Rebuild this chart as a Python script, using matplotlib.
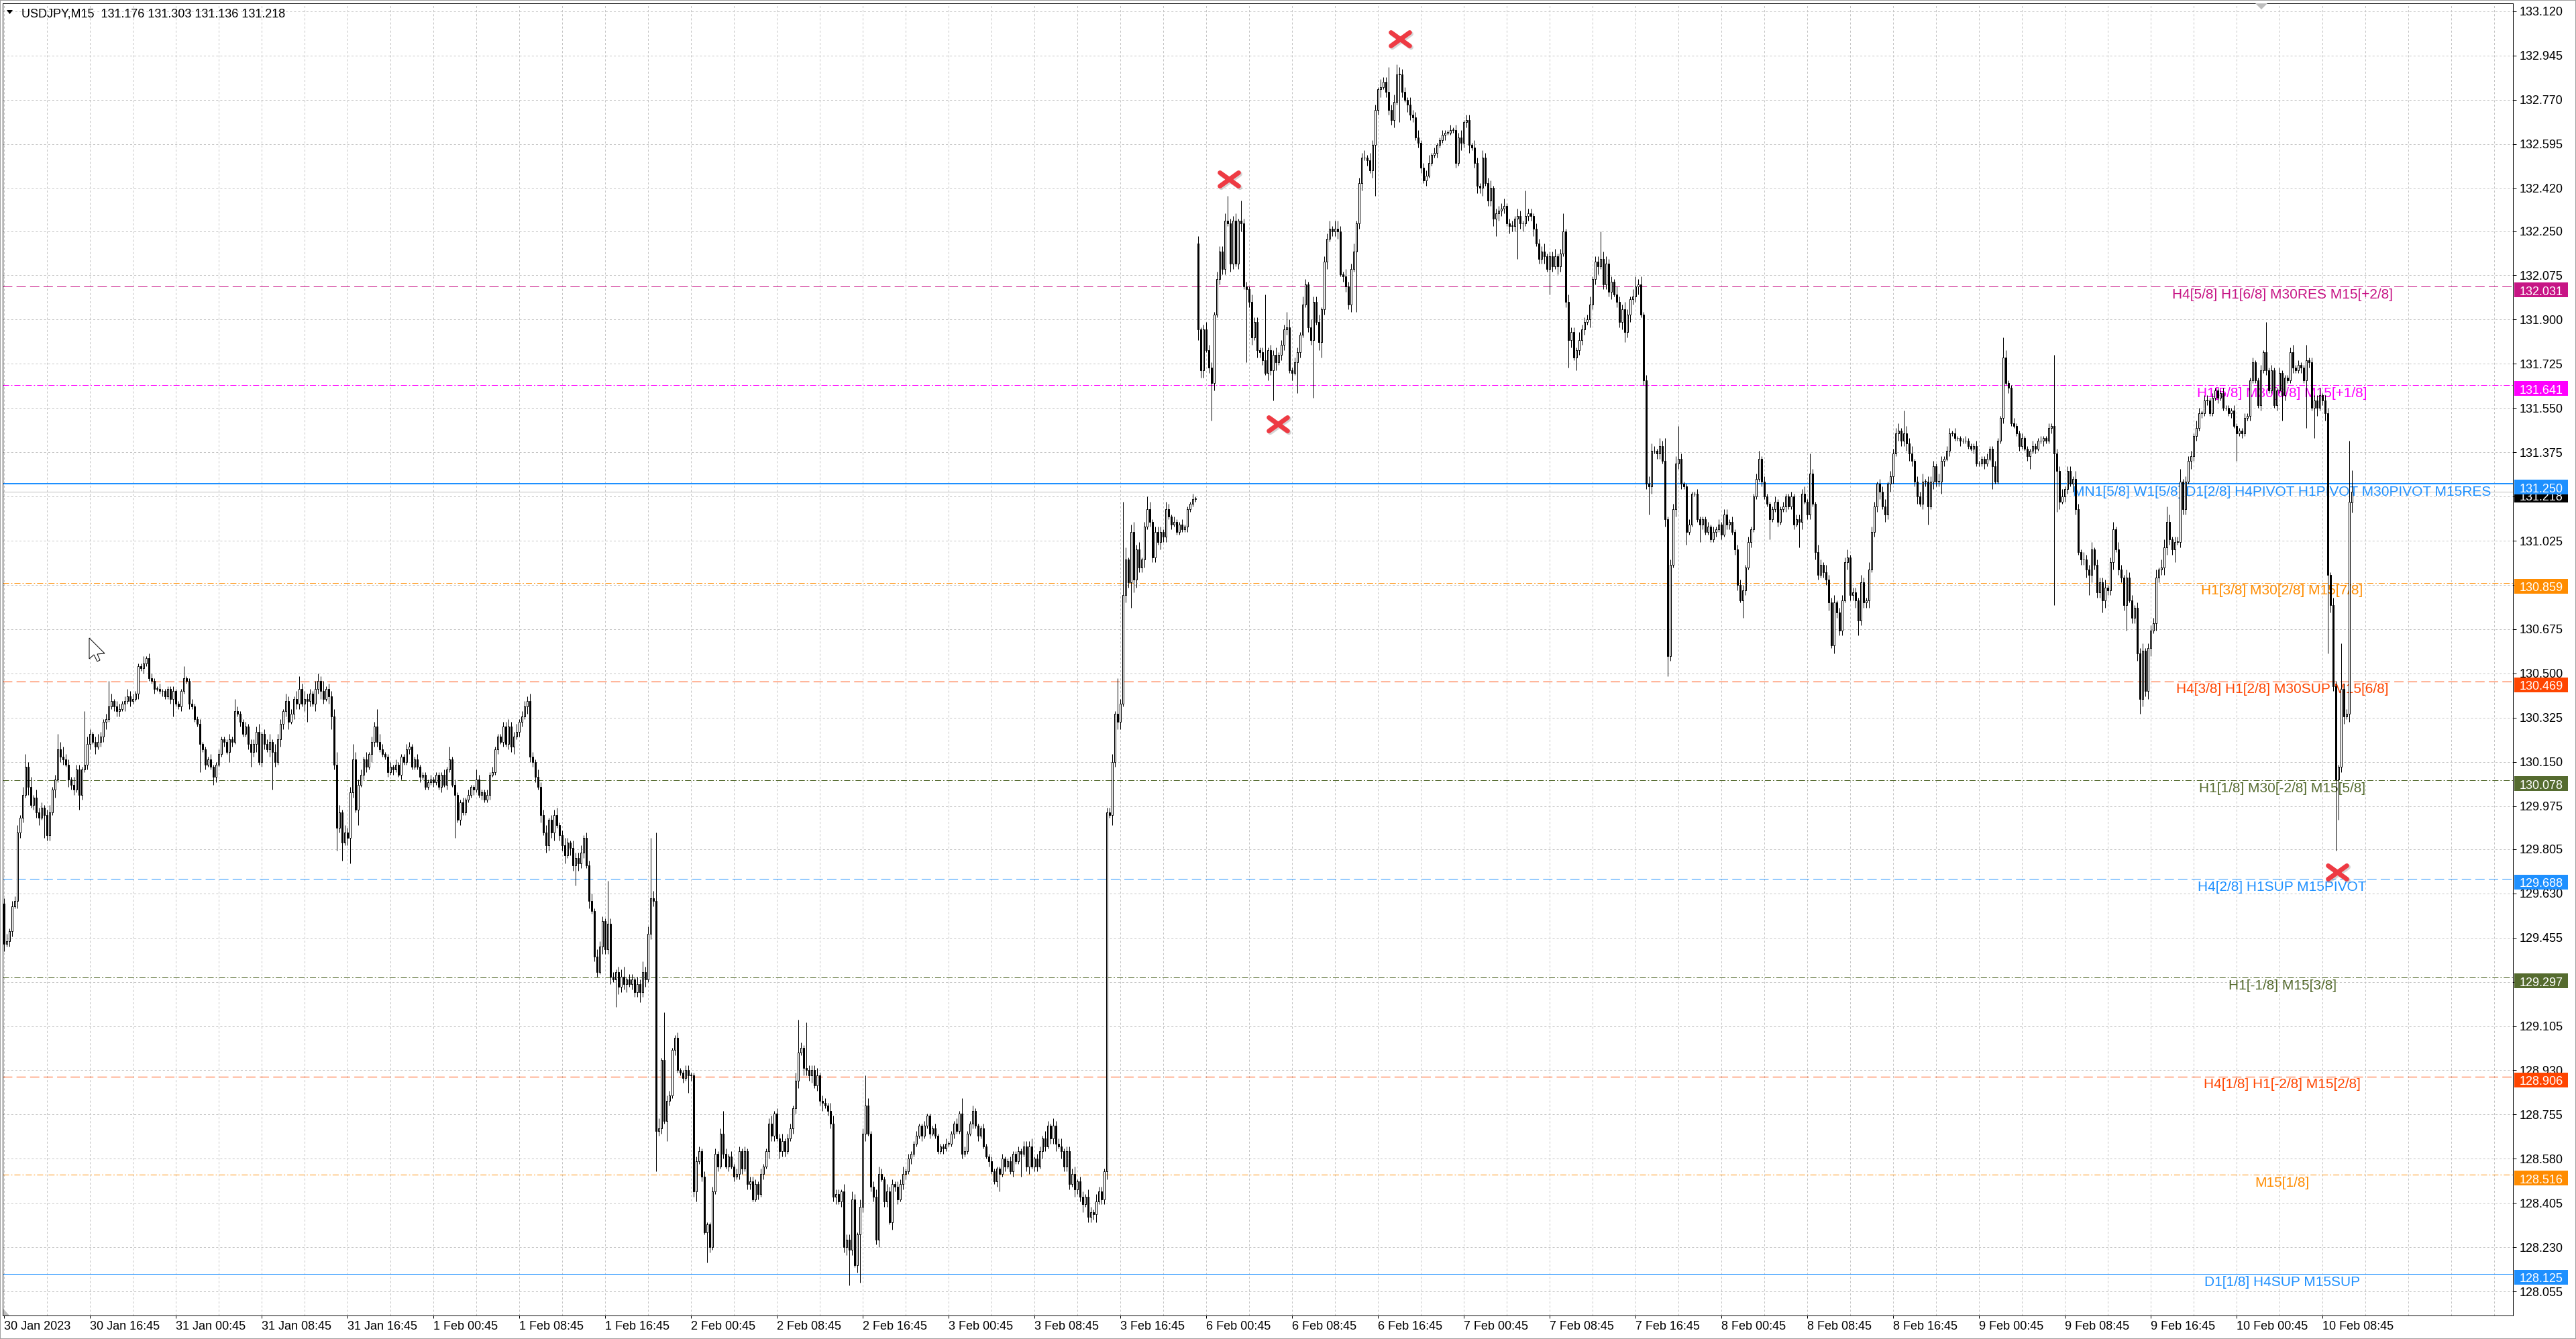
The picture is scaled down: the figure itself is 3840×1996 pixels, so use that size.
import numpy as np
import matplotlib
matplotlib.use("Agg")
import matplotlib.pyplot as plt
import matplotlib.transforms as mtransforms
from matplotlib.patches import Rectangle, Polygon
from matplotlib.path import Path
from matplotlib.markers import MarkerStyle

plt.rcParams['font.family'] = ['Liberation Sans', 'DejaVu Sans']
plt.rcParams['lines.scale_dashes'] = False

W, H, DPI = 3840, 1996, 100
PX = 72.0 / DPI  # one pixel in points
PPU = 376.8      # pixels per price unit on this chart

symbol = "USDJPY,M15"
last_bar_ohlc = [131.176, 131.303, 131.136, 131.218]

# M15 closes, in pips above 128.000, one list per trading day
BASE = 128.0
closes_30jan = [143, 144, 148, 158, 160, 187, 193, 202, 213, 205,
                198, 201, 195, 193, 197, 194, 186, 195, 204, 208,
                220, 217, 216, 214, 208, 206, 204, 212, 202, 212,
                214, 222, 226, 223, 221, 223, 225, 231, 232, 237,
                239, 237, 235, 236, 238, 239, 241, 239, 240, 242,
                253, 252, 254, 256, 248, 247, 244, 244, 243, 243,
                241]
closes_31jan = [244, 240, 243, 238, 237, 243, 248, 247, 238,
                237, 232, 230, 222, 220, 214, 216, 213, 209, 214,
                218, 224, 223, 219, 224, 223, 235, 234, 231, 226,
                229, 222, 219, 222, 227, 215, 226, 222, 220, 223,
                219, 215, 224, 230, 235, 239, 231, 234, 240, 238,
                244, 238, 240, 239, 242, 238, 244, 247, 243, 240,
                244, 241, 233, 214, 189, 195, 183, 187, 185, 203,
                216, 196, 206, 210, 216, 213, 218, 223, 229, 223,
                220, 218, 217, 211, 213, 212, 214, 210, 217, 215,
                220, 221, 213, 216, 213, 209, 210]
closes_1feb = [205, 207, 208, 207, 210, 205, 210, 206, 212, 216,
               206, 202, 192, 199, 195, 200, 202, 205, 204, 208,
               202, 203, 200, 202, 210, 211, 220, 225, 223, 229,
               222, 229, 221, 225, 227, 231, 233, 237, 239, 217,
               215, 209, 205, 194, 187,
               182, 192, 187, 194, 190, 186, 182, 178, 183, 181,
               174, 177, 175, 179, 185, 174, 160, 156, 138, 132,
               142, 152, 141, 151, 130, 129, 132, 126, 130, 127,
               129, 127, 129, 124, 127, 124, 132, 129, 147, 161,
               160, 69, 70, 97, 73, 81, 83, 101, 106, 93,
               92]
closes_2feb = [90, 93, 91, 91, 45, 57, 61, 51, 29,
               32, 23, 45, 60, 55, 68, 60, 55, 59, 55,
               51, 52, 61, 54, 61, 48, 49, 42, 48, 44,
               52, 55, 61, 72, 67, 76, 66, 61, 65, 61,
               66, 70, 78, 89, 100, 102, 94, 93, 91, 93,
               87, 91, 81, 80, 79, 77, 72, 43, 44, 41,
               45, 23, 26, 22, 42, 16, 28, 39, 68, 79,
               68, 47, 43, 26, 52, 50, 41, 45, 33, 48,
               47, 42, 48, 52, 53, 58, 60, 64, 67, 71,
               67, 71, 75, 68, 70, 67, 61]
closes_3feb = [63, 62, 64,
               64, 68, 72, 69, 76, 60, 61, 68, 72, 77,
               71, 67, 70, 63, 59, 57, 53, 49, 54, 52,
               58, 55, 57, 53, 60, 57, 61, 60, 63, 55,
               63, 55, 58, 55, 61, 66, 63, 71, 66, 71,
               64, 63, 61, 55, 61, 48, 52, 46, 49, 43,
               40, 43, 35, 37, 36, 41, 45, 42, 53,
               195, 194, 215, 234, 231, 238, 281, 295,
               286, 306, 287, 299, 292, 295, 308, 315, 310, 296,
               306, 302, 306, 304, 315, 312, 309, 310, 306, 309,
               307, 308, 315, 317, 319, 319]
closes_6feb = [386, 370, 386, 378, 371, 365, 392, 406, 417, 410,
               429, 428, 412, 429, 412, 429, 428, 403, 402, 397,
               383, 389, 378, 377, 374, 369, 378, 370, 376, 373,
               376, 380, 386, 387, 370, 369, 373, 377, 384, 396,
               404, 387, 382, 397, 389, 381, 394, 413, 422, 426,
               425, 426, 425, 408, 407, 403, 396, 410, 417, 428,
               444, 454, 454, 453, 449, 459, 473, 481, 482, 484,
               480, 473, 469, 476, 487, 487, 480, 477, 475, 471,
               470, 462, 460, 450, 445, 447, 452, 455, 456, 459,
               461, 463, 464, 464, 465, 465]
closes_7feb = [452, 462, 460, 468, 469, 459, 458, 452, 443, 442,
               454, 444, 437, 442, 430, 432, 433, 434, 435, 428,
               427, 427, 430, 431, 428, 428, 431, 432, 431, 426,
               420, 414, 417, 415, 410, 415, 411, 415, 411, 416,
               425, 397,
               382, 385, 375, 378, 382, 386, 389, 390, 396, 406,
               413, 411, 414, 404, 412, 401, 405, 400, 397, 389,
               394, 385, 392, 398, 399,
               403, 404, 392, 366, 325, 324, 338, 338, 337, 340,
               334, 311, 257, 293, 315, 333, 335, 325, 324, 306,
               309, 321, 321, 311, 309, 311, 306, 308, 303]
closes_8feb = [306, 307, 309, 305, 313, 309, 310, 306, 299, 285,
               279, 283, 292, 302, 307, 320, 327, 335, 326, 320,
               317, 311, 315, 318, 310, 315, 316, 320, 316, 320,
               309, 311, 310, 321, 318, 313, 329, 317, 298, 289,
               293, 290, 287, 278, 261, 278, 274, 267, 279, 294,
               296, 281, 282, 279, 271, 286, 278, 279, 291, 306,
               316, 325, 322, 316, 313, 325, 328, 337, 345, 346,
               342, 345, 341, 337, 334, 326, 320, 317, 326, 326,
               316, 326, 332, 326, 326, 334, 335, 338, 345, 345,
               343, 343, 342, 342, 342, 340]
closes_9feb = [339, 340, 333, 333, 335, 333, 335, 339, 332, 326,
               342, 351, 375, 365, 363, 349, 348, 345, 340, 343,
               339, 336, 338, 340, 339, 342, 342, 343, 342, 347,
               348, 337, 330, 318, 320, 323, 330, 325, 327, 315,
               298, 295, 295, 291, 289, 299, 293, 282, 286, 279,
               284, 283, 294, 307, 299, 291, 288, 277, 288, 279,
               272, 276, 258, 240, 259, 243, 260, 267, 270, 288,
               291, 292, 300, 310, 303, 299, 302, 302, 326, 315,
               326, 334, 336, 344, 347, 353, 353, 358, 358, 353,
               359, 362, 359, 361, 355, 355]
closes_10feb = [353, 354, 348, 345, 346, 345, 351, 352, 366, 373,
                366, 356, 370, 377, 370, 362, 370, 356, 362, 369,
                360, 367, 366, 377, 371, 370, 372, 371, 366, 374,
                373, 355, 358, 355, 360, 358, 353, 289, 277, 245,
                208, 213, 244, 233, 234, 318, 322]

first_open = 129.59
monday_open = 132.20   # opening price of 6 Feb after the weekend gap

# wick length (pips) above / below each body
up_30jan = "23122313 22413221 23121342 21322113 21232122 31221232 21112122 11211"
lo_30jan = "31221322 13122312 22131221 32213212 21312231 12221312 11212111 21121"
up_31jan = "11211121 12112111 21121112 11211212 22312231 32213221 31232213 22412235 31322132 21312213 21121211 12111211"
lo_31jan = "12111211 21112121 11211211 21121121 23122132 21322312 22134213 23213522 23132213 12213221 11212112 11211121"
up_1feb = "11211112 11121121 21112112 12111221 22312213 21322312 23123213 22312231 32213221 23412213 24231324 12221121"
lo_1feb = "11121121 21111211 11211211 21121212 23122132 22131322 31223132 23221312 21322313 32231222 42312232 21121211"
up_2feb = "12211221 21122121 21212212 12221211 23122312 21322132 22312213 32213223 21322312 33213221 22312112 11211121"
lo_2feb = "21122112 12211212 12121221 22112121 32213221 12231322 31223122 23122312 13223122 23122132 21221211 12112111"
up_3feb = "11211121 12112111 21121112 11211212 22312213 21322312 22312213 21322122 31222513 42312231 22213212 11211121"
lo_3feb = "12111211 21112121 11211211 21121121 23122132 12231322 21322312 22312231 42331322 53223122 21322121 11112111"
up_6feb = "31232213 22312231 32213221 23122312 22312213 21322312 23123213 22312231 32213221 23412213 22312231 21121121"
lo_6feb = "42312231 22213212 31223132 21322312 22131221 12231322 31223122 23122312 13223122 23122132 21221211 12112111"
up_7feb = "22312213 21322312 22312213 21322122 23122312 21322132 22312213 32213223 21322312 33213221 22312112 11211121"
lo_7feb = "21322312 22312231 32213221 23122312 23122132 12231322 21322312 22312231 23223122 23122132 21322121 11112111"
up_8feb = "21212212 12221211 21121112 11211212 22312213 21322312 22312213 21322122 31222313 32312231 22213212 21211121"
lo_8feb = "12121221 22112121 11211211 21121121 23122132 12231322 21322312 22312231 32331322 33223122 21322121 21112111"
up_9feb = "11211121 12112111 21121112 11211212 22312213 21322312 22312213 21322122 31222313 32312231 22213212 21211121"
lo_9feb = "12111211 21112121 11211211 21121121 23122132 12231322 21322312 22312231 32331322 33223122 21322121 21112111"
up_10feb = "11211121 12112111 21121112 11211212 22312213 2132231"
lo_10feb = "12111211 21112121 11211211 21121121 23122132 1223132"

# long wicks: bar index -> extreme (pips above 128.000)
wick_high_pips = {8: 218, 20: 226, 30: 235, 39: 247, 52: 257, 67: 253, 86: 240,
                  110: 249, 117: 250, 130: 222, 139: 236, 151: 223, 166: 221,
                  176: 212, 188: 232, 195: 241, 225: 168, 241: 185, 243: 187,
                  246: 116, 251: 107, 268: 77, 296: 113, 299: 112, 321: 91,
                  357: 82, 415: 248, 417: 318, 426: 320, 456: 439, 461: 437,
                  470: 400, 478: 393, 496: 429, 516: 490, 520: 490, 546: 470,
                  567: 441, 581: 432, 595: 425, 608: 407, 619: 343, 624: 348,
                  654: 338, 673: 337, 708: 354, 745: 383, 746: 378, 764: 376,
                  786: 310, 806: 316, 811: 331, 843: 389, 853: 380, 858: 380,
                  871: 262, 874: 342}
wick_low_pips = {15: 185, 28: 196, 63: 233, 73: 211, 78: 206, 84: 215, 92: 213,
                 100: 204, 113: 231, 124: 180, 126: 176, 129: 175, 132: 190,
                 168: 185, 202: 180, 213: 166, 220: 146, 228: 118, 243: 53,
                 247: 65, 255: 84, 258: 41, 262: 17, 315: 8, 319: 9, 326: 25,
                 331: 32, 371: 45, 379: 51, 405: 33, 420: 276, 428: 294,
                 446: 367, 450: 350, 463: 373, 473: 358, 482: 361, 488: 359,
                 491: 375, 504: 393, 511: 439, 520: 468, 530: 445, 549: 440,
                 556: 423, 564: 414, 576: 400, 583: 371, 586: 370, 604: 381,
                 613: 313, 620: 249, 627: 301, 632: 302, 648: 272, 658: 303,
                 669: 300, 681: 260, 691: 265, 717: 309, 722: 321, 741: 323,
                 755: 331, 764: 277, 765: 314, 777: 281, 782: 274, 791: 267,
                 796: 234, 799: 240, 809: 294, 832: 334, 849: 350, 858: 347,
                 861: 343, 865: 350, 866: 258, 869: 180, 870: 192}

# Murrey-math style levels drawn across the chart
levels = [132.031, 131.641, 131.250, 130.859, 130.469, 130.078,
          129.688, 129.297, 128.906, 128.516, 128.125]
level_labels = ["H4[5/8] H1[6/8] M30RES M15[+2/8]",
                "H1[5/8] M30[6/8] M15[+1/8]",
                "MN1[5/8] W1[5/8] D1[2/8] H4PIVOT H1PIVOT M30PIVOT M15RES",
                "H1[3/8] M30[2/8] M15[7/8]",
                "H4[3/8] H1[2/8] M30SUP M15[6/8]",
                "H1[1/8] M30[-2/8] M15[5/8]",
                "H4[2/8] H1SUP M15PIVOT",
                "H1[-1/8] M15[3/8]",
                "H4[1/8] H1[-2/8] M15[2/8]",
                "M15[1/8]",
                "D1[1/8] H4SUP M15SUP"]
level_colors = ["#C71585", "#FF00FF", "#1E90FF", "#FF8C00", "#FF4500", "#556B2F",
                "#1E90FF", "#556B2F", "#FF4500", "#FF8C00", "#1E90FF"]
level_styles = ["dash", "dashdot", "thick", "dashdot", "dash", "dashdot",
                "dash", "dashdot", "dash", "dashdot", "solid"]

y_ticks = [133.120, 132.945, 132.770, 132.595, 132.420, 132.250, 132.075, 131.900,
           131.725, 131.550, 131.375, 131.200, 131.025, 130.850, 130.675, 130.500,
           130.325, 130.150, 129.975, 129.805, 129.630, 129.455, 129.280, 129.105,
           128.930, 128.755, 128.580, 128.405, 128.230, 128.055]
x_labels = ["30 Jan 2023", "30 Jan 16:45", "31 Jan 00:45", "31 Jan 08:45", "31 Jan 16:45",
            "1 Feb 00:45", "1 Feb 08:45", "1 Feb 16:45", "2 Feb 00:45", "2 Feb 08:45",
            "2 Feb 16:45", "3 Feb 00:45", "3 Feb 08:45", "3 Feb 16:45", "6 Feb 00:45",
            "6 Feb 08:45", "6 Feb 16:45", "7 Feb 00:45", "7 Feb 08:45", "7 Feb 16:45",
            "8 Feb 00:45", "8 Feb 08:45", "8 Feb 16:45", "9 Feb 00:45", "9 Feb 08:45",
            "9 Feb 16:45", "10 Feb 00:45", "10 Feb 08:45"]

# red swing marks (bar position, price)
mark_index = [456.5, 474.8, 520.4, 869.5]
mark_price = [132.456, 131.487, 133.010, 129.714]

# ---- build OHLC ----
day_closes = [closes_30jan, closes_31jan, closes_1feb, closes_2feb, closes_3feb,
              closes_6feb, closes_7feb, closes_8feb, closes_9feb, closes_10feb]
day_up = [up_30jan, up_31jan, up_1feb, up_2feb, up_3feb,
          up_6feb, up_7feb, up_8feb, up_9feb, up_10feb]
day_lo = [lo_30jan, lo_31jan, lo_1feb, lo_2feb, lo_3feb,
          lo_6feb, lo_7feb, lo_8feb, lo_9feb, lo_10feb]


def wick_list(s, n):
    d = [int(ch) for ch in s if ch.isdigit()]
    return (d + [1] * n)[:n]


closes = BASE + np.concatenate([np.array(d, float) for d in day_closes]) / 100.0
up = np.concatenate([wick_list(s, len(d)) for s, d in zip(day_up, day_closes)]) / 100.0
lo = np.concatenate([wick_list(s, len(d)) for s, d in zip(day_lo, day_closes)]) / 100.0
n = len(closes)

opens = np.empty(n)
opens[0] = first_open
opens[1:] = closes[:-1]
gap_bar = sum(len(d) for d in day_closes[:5])
opens[gap_bar] = monday_open

highs = np.maximum(opens, closes) + up
lows = np.minimum(opens, closes) - lo
for k, v in wick_high_pips.items():
    if k < n:
        highs[k] = max(highs[k], BASE + v / 100.0)
for k, v in wick_low_pips.items():
    if k < n:
        lows[k] = min(lows[k], BASE + v / 100.0)
opens[-1], highs[-1], lows[-1], closes[-1] = last_bar_ohlc

# ---- figure ----
fig = plt.figure(figsize=(W / DPI, H / DPI), dpi=DPI, facecolor='white')
ax = fig.add_axes([4 / W, 1 - 1961 / H, (3746 - 4) / W, (1961 - 5) / H])
ax.set_xlim(-0.45, 935.05)
ax.set_ylim(127.96, 133.151)
ax.set_facecolor('white')
for sp in ax.spines.values():
    sp.set_color('black')
    sp.set_linewidth(PX)

grid_kw = dict(color='#C4C4C4', linestyle=(0, (2.2, 2.2)), linewidth=PX)
ax.set_xticks(np.arange(0, 865, 32))
ax.set_xticklabels(x_labels, fontsize=13, ha='left')
ax.set_xticks(np.arange(0, 936, 16), minor=True)
ax.tick_params(axis='x', which='major', length=3, width=PX, pad=2.5, direction='out')
ax.tick_params(axis='x', which='minor', length=0)
ax.grid(True, which='both', axis='x', **grid_kw)

ax.yaxis.tick_right()
ax.set_yticks(y_ticks)
ax.set_yticklabels([f"{v:.3f}" for v in y_ticks], fontsize=13)
ax.tick_params(axis='y', length=3.6, width=PX, pad=3.6, direction='out')
ax.grid(True, axis='y', **grid_kw)

# level lines and their captions
styles = {'dash': dict(linestyle=(0, (10, 4.5)), linewidth=PX),
          'dashdot': dict(linestyle=(0, (6.5, 2.2, 1.3, 2.2)), linewidth=PX),
          'solid': dict(linestyle='-', linewidth=PX),
          'thick': dict(linestyle='-', linewidth=2 * PX)}
for p, lab, col, st in zip(levels, level_labels, level_colors, level_styles):
    ax.axhline(p, color=col, zorder=1.8, **styles[st])
    ax.annotate(lab, xy=(0.9081, p), xycoords=('axes fraction', 'data'),
                xytext=(0, -2), textcoords='offset points', ha='center', va='top',
                color=col, fontsize=15, zorder=2)

# bid line
ax.axhline(closes[-1], color='#BEBEBE', linewidth=PX, zorder=1.7)

# candles
x = np.arange(n)
bull = closes >= opens
ax.vlines(x, lows, highs, color='black', linewidth=PX, zorder=3)
body_lo = np.minimum(opens, closes)
body_h = np.maximum(np.abs(closes - opens), 0.0015)
ax.bar(x, body_h, bottom=body_lo, width=0.6,
       color=np.where(bull, 'white', 'black'), edgecolor='black',
       linewidth=PX, zorder=4)

# red swing crosses
xpath = Path([(-1, -0.72), (1, 0.72), (-1, 0.72), (1, -0.72)],
             [Path.MOVETO, Path.LINETO, Path.MOVETO, Path.LINETO])
xmark = MarkerStyle(xpath, capstyle='round')
shadow = mtransforms.offset_copy(ax.transData, fig=fig, x=2, y=-2, units='dots')
ax.plot(mark_index, mark_price, linestyle='none', marker=xmark, markersize=20,
        markerfacecolor='none', markeredgecolor='#888888', markeredgewidth=5.2,
        alpha=0.35, transform=shadow, zorder=5, clip_on=False)
ax.plot(mark_index, mark_price, linestyle='none', marker=xmark, markersize=20,
        markerfacecolor='none', markeredgecolor='#EE3A43', markeredgewidth=5.0,
        zorder=6, clip_on=False)

# price tags on the right scale (box sits 6 px above to 16 px below its line)
blend = mtransforms.blended_transform_factory(fig.transFigure, ax.transData)


def price_tag(p, col, z):
    ax.add_patch(Rectangle((3748 / W, p - 16 / PPU), 80 / W, 22 / PPU, transform=blend,
                           facecolor=col, edgecolor='none', clip_on=False, zorder=z))
    ax.text(3756 / W, p - 12.6 / PPU, f"{p:.3f}", transform=blend, color='white',
            fontsize=13, ha='left', va='baseline', clip_on=False, zorder=z + 0.5)


price_tag(closes[-1], 'black', 9)
for p, col in zip(levels, level_colors):
    price_tag(p, col, 10)

# header
ohlc_txt = " ".join(f"{v:.3f}" for v in last_bar_ohlc)
fig.text(32 / W, 1 - 26 / H, f"{symbol}  {ohlc_txt}", fontsize=13, color='black',
         ha='left', va='baseline')


def px_poly(pts, **kw):
    return Polygon([(px / W, 1 - py / H) for px, py in pts], closed=True,
                   transform=fig.transFigure, **kw)


fig.add_artist(px_poly([(10, 15), (19, 15), (14.5, 21)], facecolor='black', edgecolor='none'))
fig.add_artist(px_poly([(3362, 5), (3380, 5), (3371, 14)], facecolor='#BDBDBD', edgecolor='none'))
fig.add_artist(px_poly([(5, 1951), (5, 1961), (14, 1961)], facecolor='#BDBDBD', edgecolor='none'))

# mouse pointer
tip = (133, 951)
cursor = [(0, 0), (0, 31), (7, 25), (12, 35), (16, 33), (12, 24), (23, 23)]
fig.add_artist(px_poly([(tip[0] + dx, tip[1] + dy) for dx, dy in cursor],
                       facecolor='white', edgecolor='black', linewidth=PX))

# window border
fig.add_artist(Rectangle((0, 0), 1, 1, transform=fig.transFigure, fill=False,
                         edgecolor='#A0A0A0', linewidth=2 * PX))

fig.savefig("out.png", dpi=DPI, facecolor='white')
